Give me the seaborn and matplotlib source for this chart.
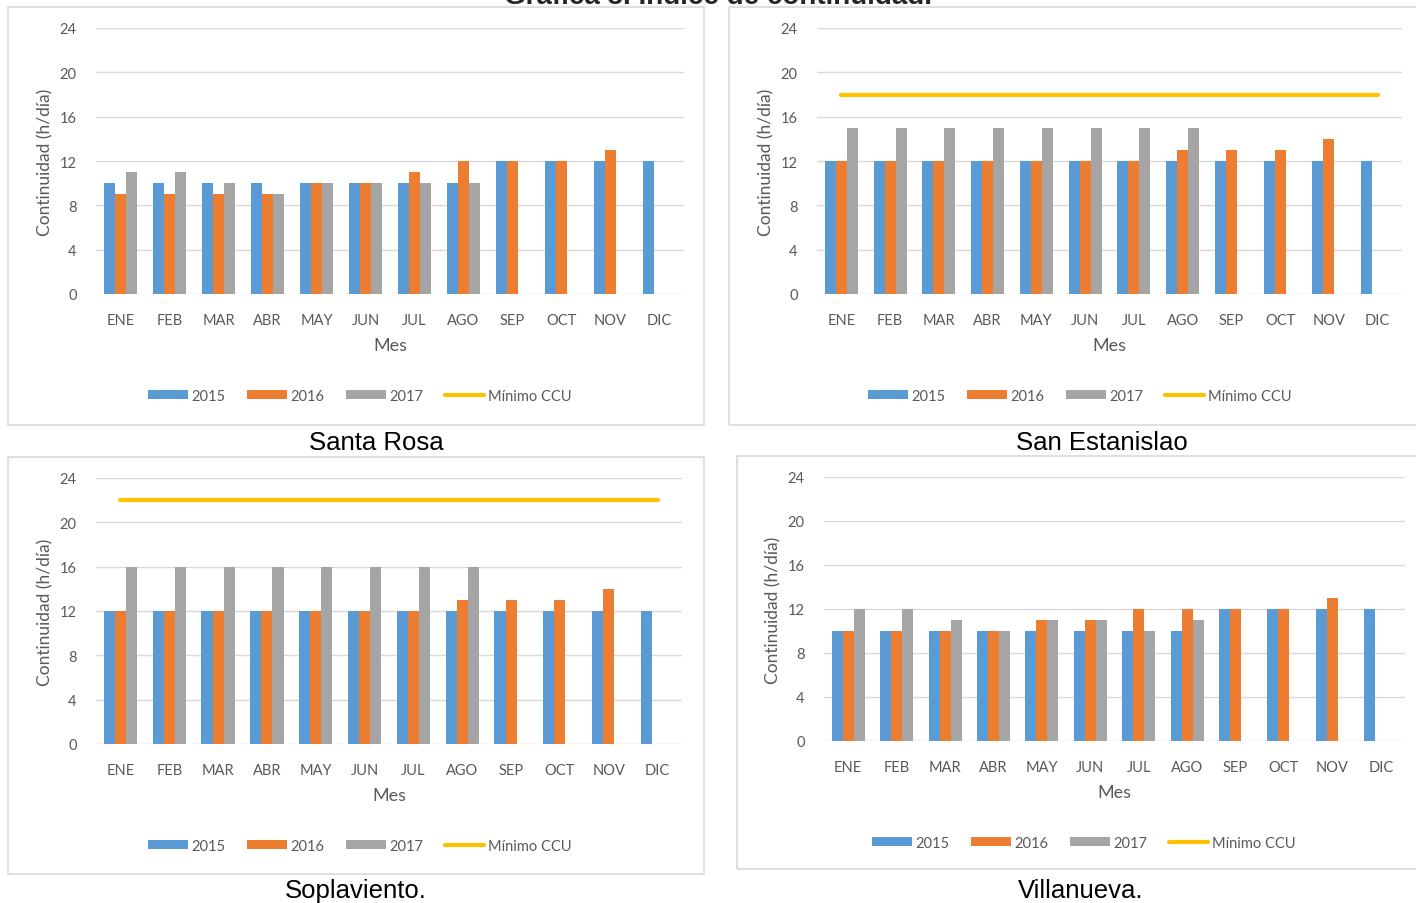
import numpy as np
import pandas as pd
import matplotlib
matplotlib.use("Agg")
import matplotlib.pyplot as plt
from matplotlib.patches import Patch, Rectangle
from matplotlib.lines import Line2D
import seaborn as sns

meses = ["ENE", "FEB", "MAR", "ABR", "MAY", "JUN", "JUL", "AGO", "SEP", "OCT", "NOV", "DIC"]
nan = np.nan

# Santa Rosa
sr_2015 = [10, 10, 10, 10, 10, 10, 10, 10, 12, 12, 12, 12]
sr_2016 = [9, 9, 9, 9, 10, 10, 11, 12, 12, 12, 13, nan]
sr_2017 = [11, 11, 10, 9, 10, 10, 10, 10, nan, nan, nan, nan]
sr_min = [nan] * 12

# San Estanislao
se_2015 = [12, 12, 12, 12, 12, 12, 12, 12, 12, 12, 12, 12]
se_2016 = [12, 12, 12, 12, 12, 12, 12, 13, 13, 13, 14, nan]
se_2017 = [15, 15, 15, 15, 15, 15, 15, 15, nan, nan, nan, nan]
se_min = [18] * 12

# Soplaviento
so_2015 = [12, 12, 12, 12, 12, 12, 12, 12, 12, 12, 12, 12]
so_2016 = [12, 12, 12, 12, 12, 12, 12, 13, 13, 13, 14, nan]
so_2017 = [16, 16, 16, 16, 16, 16, 16, 16, nan, nan, nan, nan]
so_min = [22] * 12

# Villanueva
vi_2015 = [10, 10, 10, 10, 10, 10, 10, 10, 12, 12, 12, 12]
vi_2016 = [10, 10, 10, 10, 11, 11, 12, 12, 12, 12, 13, nan]
vi_2017 = [12, 12, 11, 10, 11, 11, 10, 11, nan, nan, nan, nan]
vi_min = [nan] * 12

anios = ["2015", "2016", "2017"]
colores = {"2015": "#5B9BD5", "2016": "#ED7D31", "2017": "#A5A5A5"}
color_min = "#FFC000"
gris_txt = "#595959"
gris_linea = "#D9D9D9"

W, H = 1416, 904
sns.set_theme(style="white")
plt.rcParams["font.family"] = ["Lato", "DejaVu Sans"]

fig = plt.figure(figsize=(W / 100, H / 100), dpi=100)


def px_box(l, t, r, b):
    return [l / W, 1 - b / H, (r - l) / W, (b - t) / H]


def panel(frame, axbox, ylab_x, leg_x, vals, minimo, caption, cap_xy):
    # marco del panel
    fl, ft, fr, fb = frame
    fig.patches.append(Rectangle((fl / W, 1 - fb / H), (fr - fl) / W, (fb - ft) / H,
                                 transform=fig.transFigure, fill=False,
                                 edgecolor=gris_linea, linewidth=1.2))
    l, t, r, b = axbox
    ax = fig.add_axes(px_box(l, t, r, b))
    df = pd.DataFrame({
        "Mes": meses * 3,
        "Año": sum([[a] * 12 for a in anios], []),
        "Valor": list(vals[0]) + list(vals[1]) + list(vals[2]),
    }).dropna()
    sns.barplot(data=df, x="Mes", y="Valor", hue="Año", order=meses, hue_order=anios,
                palette=colores, width=0.68, gap=0, ax=ax, legend=False,
                saturation=1, edgecolor="none")
    sns.lineplot(x=np.arange(12), y=minimo, color=color_min, linewidth=3, ax=ax)
    ax.set_xlim(-0.5, 11.5)
    ax.set_ylim(0, 24)
    ax.set_yticks(range(0, 25, 4))
    ax.yaxis.grid(True, color=gris_linea, linewidth=1)
    ax.set_axisbelow(True)
    for s in ax.spines.values():
        s.set_visible(False)
    ax.tick_params(axis="both", length=0, labelsize=10.5, colors=gris_txt)
    ax.tick_params(axis="y", pad=14)
    ax.tick_params(axis="x", pad=14)
    ax.set_xlabel("Mes", fontsize=13, color=gris_txt)
    ax.xaxis.set_label_coords(0.5, -(51 / (b - t)))
    ax.xaxis.label.set_va("center")
    ax.set_ylabel("Continuidad (h/día)", fontsize=12.5, color=gris_txt)
    ax.yaxis.set_label_coords(-(l - ylab_x) / (r - l), 0.5)
    ax.yaxis.label.set_va("center")
    handles = [Patch(facecolor=colores[a], edgecolor="none", label=a) for a in anios]
    handles.append(Line2D([0], [0], color=color_min, linewidth=3, label="Mínimo CCU"))
    leg = ax.legend(handles=handles, loc="center", ncol=4, frameon=False,
                    bbox_to_anchor=((leg_x - l) / (r - l), -(102 / (b - t))), fontsize=10.5,
                    handlelength=2.7, handleheight=0.6, handletextpad=0.25,
                    columnspacing=1.5)
    for txt in leg.get_texts():
        txt.set_color(gris_txt)
    fig.text(cap_xy[0] / W, 1 - cap_xy[1] / H, caption, ha="center", va="center",
             fontsize=18.5, family=["Liberation Sans", "DejaVu Sans"], color="black")
    return ax


panel((8, 8, 704, 426), (96, 29, 684, 295), 45, 360,
      (sr_2015, sr_2016, sr_2017), sr_min, "Santa Rosa", (376, 443))
panel((729, 8, 1418, 426), (817, 29, 1402, 295), 766, 1080,
      (se_2015, se_2016, se_2017), se_min, "San Estanislao", (1102, 443))
panel((8, 458, 704, 875), (96, 479, 682, 745), 45, 360,
      (so_2015, so_2016, so_2017), so_min, "Soplaviento.", (356, 891))
panel((737, 457, 1418, 870), (824, 478, 1405, 742), 773, 1084,
      (vi_2015, vi_2016, vi_2017), vi_min, "Villanueva.", (1081, 891))

fig.text(0.507, 1 - 4 / H, "Gráfica 3. Índice de continuidad.", ha="center", va="baseline",
         fontsize=20, fontweight="bold", family=["Liberation Sans", "DejaVu Sans"])

fig.savefig("out.png", dpi=100)
